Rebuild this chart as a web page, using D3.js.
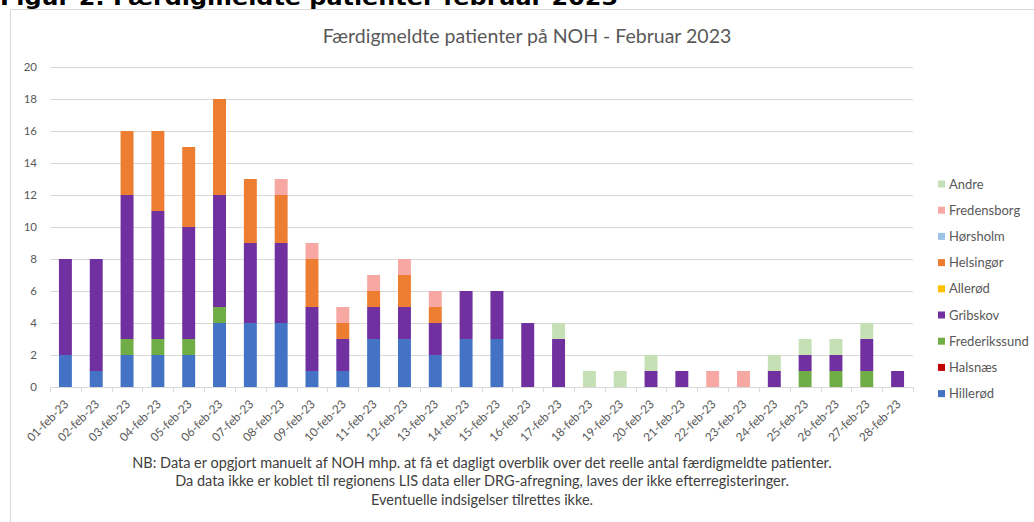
<!DOCTYPE html>
<html>
<head>
<meta charset="utf-8">
<script src="https://cdn.jsdelivr.net/npm/d3@7"></script>
<style>
  body { margin: 0; background: #fff; }
  svg { display: block; font-family: Lato, "Open Sans", sans-serif; }
</style>
</head>
<body>
<svg id="chart" width="1034" height="522"></svg>
<script>
// dagene i februar
var days = ["01-feb-23","02-feb-23","03-feb-23","04-feb-23","05-feb-23","06-feb-23","07-feb-23",
            "08-feb-23","09-feb-23","10-feb-23","11-feb-23","12-feb-23","13-feb-23","14-feb-23",
            "15-feb-23","16-feb-23","17-feb-23","18-feb-23","19-feb-23","20-feb-23","21-feb-23",
            "22-feb-23","23-feb-23","24-feb-23","25-feb-23","26-feb-23","27-feb-23","28-feb-23"]

// kommuner, nedefra og op i stakken
var kommuner = ["Hillerød","Halsnæs","Frederikssund","Gribskov","Allerød","Helsingør","Hørsholm","Fredensborg","Andre"]
var farver   = ["#4472c4","#c00000","#70ad47","#7030a0","#ffc000","#ed7d31","#9dc3e6","#f8a8a2","#c5e0b4"]

var hillerod      = [2,1,2,2,2,4,4,4,1,1,3,3,2,3,3,0,0,0,0,0,0,0,0,0,0,0,0,0]
var halsnaes      = [0,0,0,0,0,0,0,0,0,0,0,0,0,0,0,0,0,0,0,0,0,0,0,0,0,0,0,0]
var frederikssund = [0,0,1,1,1,1,0,0,0,0,0,0,0,0,0,0,0,0,0,0,0,0,0,0,1,1,1,0]
var gribskov      = [6,7,9,8,7,7,5,5,4,2,2,2,2,3,3,4,3,0,0,1,1,0,0,1,1,1,2,1]
var allerod       = [0,0,0,0,0,0,0,0,0,0,0,0,0,0,0,0,0,0,0,0,0,0,0,0,0,0,0,0]
var helsingor     = [0,0,4,5,5,6,4,3,3,1,1,2,1,0,0,0,0,0,0,0,0,0,0,0,0,0,0,0]
var horsholm      = [0,0,0,0,0,0,0,0,0,0,0,0,0,0,0,0,0,0,0,0,0,0,0,0,0,0,0,0]
var fredensborg   = [0,0,0,0,0,0,0,1,1,1,1,1,1,0,0,0,0,0,0,0,0,1,1,0,0,0,0,0]
var andre         = [0,0,0,0,0,0,0,0,0,0,0,0,0,0,0,0,1,1,1,1,0,0,0,1,1,1,1,0]

var yTicks = [0,2,4,6,8,10,12,14,16,18,20]

var noter = ["NB: Data er opgjort manuelt af NOH mhp. at få et dagligt overblik over det reelle antal færdigmeldte patienter.",
             "Da data ikke er koblet til regionens LIS data eller DRG-afregning, laves der ikke efterregisteringer.",
             "Eventuelle indsigelser tilrettes ikke."]

var serier = [hillerod, halsnaes, frederikssund, gribskov, allerod, helsingor, horsholm, fredensborg, andre]

var rows = days.map(function (d, i) {
    var r = { day: d }
    kommuner.forEach(function (k, j) { r[k] = serier[j][i] })
    return r
})

var svg = d3.select("#chart")
var grey = "#595959"

// overskrift over figuren (skaaret af i toppen, som i originalen)
svg.append("text")
    .attr("x", 0).attr("y", 5)
    .attr("font-family", "'DejaVu Sans', Verdana, sans-serif")
    .attr("font-weight", "bold")
    .attr("font-size", 22)
    .attr("textLength", 618)
    .attr("lengthAdjust", "spacingAndGlyphs")
    .attr("fill", "#000")
    .text("Figur 2: Færdigmeldte patienter februar 2023")

// ramme
svg.append("rect")
    .attr("x", 10.5).attr("y", 9.5)
    .attr("width", 1040).attr("height", 530)
    .attr("fill", "#fff")
    .attr("stroke", "#d9d9d9")

svg.append("text")
    .attr("x", 527).attr("y", 43)
    .attr("text-anchor", "middle")
    .attr("font-size", 19.5)
    .attr("fill", grey)
    .text("Færdigmeldte patienter på NOH - Februar 2023")

var x = d3.scaleBand().domain(days).range([50, 913]).paddingInner(0.58).paddingOuter(0.29)
var y = d3.scaleLinear().domain([0, 20]).range([387, 67])

// gitterlinjer
svg.append("g").selectAll("line")
    .data(yTicks.slice(1))
    .enter().append("line")
    .attr("x1", 50).attr("x2", 913)
    .attr("y1", function (d) { return Math.round(y(d)) + 0.5 })
    .attr("y2", function (d) { return Math.round(y(d)) + 0.5 })
    .attr("stroke", "#d9d9d9")

svg.append("g").selectAll("text")
    .data(yTicks)
    .enter().append("text")
    .attr("x", 37)
    .attr("y", function (d) { return y(d) + 4 })
    .attr("text-anchor", "end")
    .attr("font-size", 11.5)
    .attr("fill", grey)
    .text(function (d) { return d })

var stack = d3.stack().keys(kommuner)(rows)

svg.append("g").selectAll("g")
    .data(stack)
    .enter().append("g")
    .attr("fill", function (d, i) { return farver[i] })
    .selectAll("rect")
    .data(function (d) { return d })
    .enter().append("rect")
    .attr("x", function (d) { return x(d.data.day) })
    .attr("width", x.bandwidth())
    .attr("y", function (d) { return y(d[1]) })
    .attr("height", function (d) { return y(d[0]) - y(d[1]) })

// x-akse
var step = x.step()
var xAxis = svg.append("g")
xAxis.append("line")
    .attr("x1", 50).attr("x2", 913)
    .attr("y1", 387.5).attr("y2", 387.5)
    .attr("stroke", "#d9d9d9")
xAxis.selectAll("line.tick")
    .data(d3.range(days.length + 1))
    .enter().append("line")
    .attr("class", "tick")
    .attr("x1", function (i) { return Math.round(50 + i * step) + 0.5 })
    .attr("x2", function (i) { return Math.round(50 + i * step) + 0.5 })
    .attr("y1", 387).attr("y2", 392)
    .attr("stroke", "#d9d9d9")

xAxis.selectAll("text")
    .data(days)
    .enter().append("text")
    .attr("transform", function (d) {
        return "translate(" + (x(d) + x.bandwidth() / 2 + 1) + ",402) rotate(-45)"
    })
    .attr("text-anchor", "end")
    .attr("dy", "0.35em")
    .attr("font-size", 11.8)
    .attr("fill", grey)
    .text(function (d) { return d })

// forklaring, Andre oeverst
var legend = svg.append("g").selectAll("g")
    .data(kommuner.slice().reverse())
    .enter().append("g")
    .attr("transform", function (d, i) { return "translate(938," + (184 + i * 26.2) + ")" })
legend.append("rect")
    .attr("x", 0).attr("y", -3.5)
    .attr("width", 7).attr("height", 7)
    .attr("fill", function (d) { return farver[kommuner.indexOf(d)] })
legend.append("text")
    .attr("x", 11).attr("y", 4.5)
    .attr("font-size", 13)
    .attr("fill", grey)
    .text(function (d) { return d })

svg.append("g").selectAll("text")
    .data(noter)
    .enter().append("text")
    .attr("x", 482)
    .attr("y", function (d, i) { return 468 + i * 18.3 })
    .attr("text-anchor", "middle")
    .attr("font-size", 14.5)
    .attr("fill", "#404040")
    .text(function (d) { return d })
</script>
</body>
</html>
